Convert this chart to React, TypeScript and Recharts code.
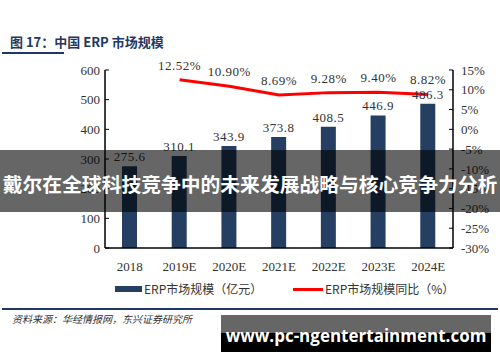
import { ComposedChart, Bar, Line, XAxis, YAxis, LabelList } from 'recharts';

const years = ['2018', '2019E', '2020E', '2021E', '2022E', '2023E', '2024E'];
const marketSize = [275.6, 310.1, 343.9, 373.8, 408.5, 446.9, 486.3];
const growth: Array<number | null> = [null, 12.52, 10.9, 8.69, 9.28, 9.4, 8.82];
const leftTicks = [0, 100, 200, 300, 400, 500, 600];
const rightTicks = [-30, -25, -20, -15, -10, -5, 0, 5, 10, 15];

const data = years.map((year, i) => ({
  year,
  size: marketSize[i],
  growth: growth[i],
}));

const NAVY = '#253f63';
const TITLE_BLUE = '#1f3864';
const tickStyle = { fontSize: 13, fill: '#333', fontFamily: '"Liberation Serif", serif' };

export default function App() {
  return (
    <div
      style={{
        position: 'absolute',
        left: 0,
        top: 0,
        width: 500,
        height: 362,
        background: '#fff',
        overflow: 'hidden',
        fontFamily: '"Noto Sans CJK SC", sans-serif',
      }}
    >
      <div
        style={{
          position: 'absolute',
          left: 10,
          top: 33,
          fontSize: 13,
          fontWeight: 700,
          color: TITLE_BLUE,
          whiteSpace: 'nowrap',
          lineHeight: '18px',
        }}
      >
        图 17：中国 ERP 市场规模
      </div>
      <div style={{ position: 'absolute', left: 2, top: 52, width: 62, height: 2, background: TITLE_BLUE }} />

      <div style={{ position: 'absolute', left: 0, top: 0 }}>
        <ComposedChart
          width={500}
          height={300}
          data={data}
          margin={{ top: 70, right: 0, left: 0, bottom: 22 }}
        >
          <XAxis
            dataKey="year"
            height={30}
            tick={tickStyle}
            tickLine={false}
            axisLine={{ stroke: '#000', strokeWidth: 1.5 }}
            tickMargin={8}
          />
          <YAxis
            yAxisId="left"
            width={105}
            domain={[0, 600]}
            ticks={leftTicks}
            tick={tickStyle}
            tickSize={-4}
            tickMargin={9}
            tickLine={{ stroke: '#000' }}
            axisLine={{ stroke: '#000', strokeWidth: 1.5 }}
            interval={0}
          />
          <YAxis
            yAxisId="right"
            orientation="right"
            width={47}
            domain={[-30, 15]}
            ticks={rightTicks}
            tick={tickStyle}
            tickSize={-4}
            tickMargin={12}
            tickLine={{ stroke: '#000' }}
            axisLine={{ stroke: '#000', strokeWidth: 1.5 }}
            tickFormatter={(v: number) => `${v}%`}
            interval={0}
          />
          <Bar yAxisId="left" dataKey="size" fill={NAVY} barSize={15} isAnimationActive={false}>
            <LabelList
              dataKey="size"
              position="top"
              offset={5}
              style={{ fontSize: 13, fill: '#333', fontFamily: '"Liberation Serif", serif', letterSpacing: 0.5 }}
            />
          </Bar>
          <Line
            yAxisId="right"
            dataKey="growth"
            stroke="#ff0000"
            strokeWidth={3}
            dot={false}
            connectNulls
            isAnimationActive={false}
          >
            <LabelList
              dataKey="growth"
              position="top"
              offset={10}
              formatter={(v: number) => (v == null ? '' : `${v.toFixed(2)}%`)}
              style={{ fontSize: 13, fill: '#333', fontFamily: '"Liberation Serif", serif', letterSpacing: 0.5 }}
            />
          </Line>
        </ComposedChart>
      </div>

      {/* legend */}
      <div style={{ position: 'absolute', left: 115, top: 286, width: 27, height: 6, background: NAVY }} />
      <div style={{ position: 'absolute', left: 144, top: 280, fontSize: 12, color: '#333', lineHeight: '18px', whiteSpace: 'nowrap' }}>
        ERP市场规模（亿元）
      </div>
      <div style={{ position: 'absolute', left: 293, top: 288, width: 30, height: 3, background: '#ff0000' }} />
      <div style={{ position: 'absolute', left: 325, top: 280, fontSize: 12, color: '#333', lineHeight: '18px', whiteSpace: 'nowrap' }}>
        ERP市场规模同比（%）
      </div>

      <div style={{ position: 'absolute', left: 2, top: 308, width: 496, height: 2, background: TITLE_BLUE }} />
      <div
        style={{
          position: 'absolute',
          left: 12,
          top: 313,
          fontSize: 10,
          fontStyle: 'italic',
          color: '#333',
          lineHeight: '12px',
          whiteSpace: 'nowrap',
        }}
      >
        资料来源：华经情报网，东兴证券研究所
      </div>

      {/* overlay banner */}
      <div
        style={{
          position: 'absolute',
          left: 0,
          top: 150,
          width: 500,
          height: 62,
          background: 'rgba(0,0,0,0.6)',
          display: 'flex',
          alignItems: 'center',
          justifyContent: 'center',
          overflow: 'hidden',
        }}
      >
        <span style={{ color: '#fff', fontSize: 19.8, fontWeight: 700, whiteSpace: 'nowrap', marginTop: 4 }}>
          戴尔在全球科技竞争中的未来发展战略与核心竞争力分析
        </span>
      </div>

      {/* bottom badge */}
      <div style={{ position: 'absolute', left: 221, top: 315, width: 270, height: 37, overflow: 'hidden' }}>
        <div style={{ height: 18, background: '#666' }} />
        <div style={{ height: 19, background: '#000' }} />
        <div
          style={{
            position: 'absolute',
            left: 0,
            top: 0,
            width: 270,
            height: 37,
            display: 'flex',
            alignItems: 'center',
            justifyContent: 'center',
            color: '#fff',
            fontFamily: '"Open Sans", sans-serif',
            fontWeight: 700,
            fontSize: 17,
            paddingTop: 4,
            boxSizing: 'border-box',
            whiteSpace: 'nowrap',
          }}
        >
          www.pc-ngentertainment.com
        </div>
      </div>
    </div>
  );
}
